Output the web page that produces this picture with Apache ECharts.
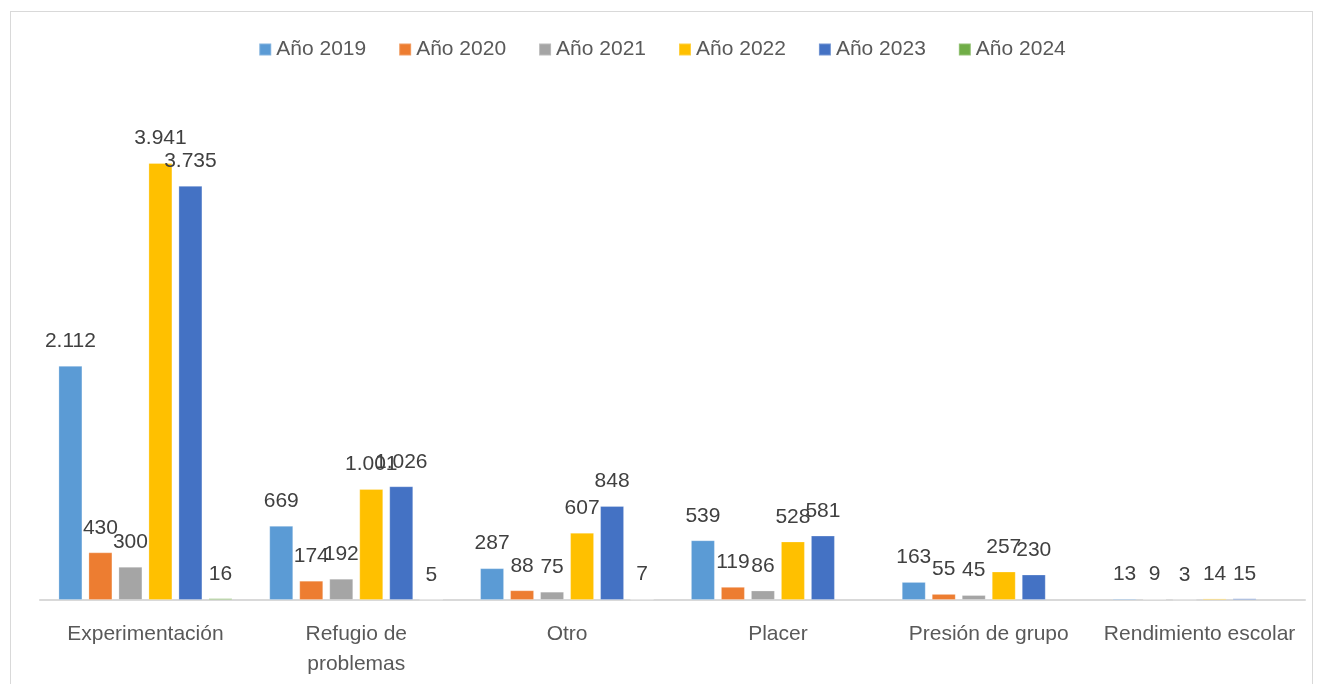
<!DOCTYPE html>
<html>
<head>
<meta charset="utf-8">
<script src="https://cdn.jsdelivr.net/npm/echarts@6/dist/echarts.min.js"></script>
<style>
    html, body { margin: 0; padding: 0; background: #fff; overflow: hidden; }
    #frame { position: absolute; left: 10px; top: 11px; width: 1303px; height: 700px; border: 1px solid #d9d9d9; box-sizing: border-box; }
    #chart { position: absolute; left: 0; top: 0; width: 1324px; height: 684px; }
</style>
</head>
<body>
<div id="frame"></div>
<div id="chart"></div>
<script>
    const categories = ['Experimentación', 'Refugio de\nproblemas', 'Otro', 'Placer', 'Presión de grupo', 'Rendimiento escolar'];
    const years = ['Año 2019', 'Año 2020', 'Año 2021', 'Año 2022', 'Año 2023', 'Año 2024'];
    const y2019 = [2112, 669, 287, 539, 163, 13];
    const y2020 = [430, 174, 88, 119, 55, 9];
    const y2021 = [300, 192, 75, 86, 45, 3];
    const y2022 = [3941, 1001, 607, 528, 257, 14];
    const y2023 = [3735, 1026, 848, 581, 230, 15];
    const y2024 = [16, 5, 7, '-', '-', '-'];
    const colors = ['#5b9bd5', '#ed7d31', '#a5a5a5', '#ffc000', '#4472c4', '#70ad47'];

    const allValues = [y2019, y2020, y2021, y2022, y2023, y2024];

    function fmt(v) {
        return String(v).replace(/\B(?=(\d{3})+(?!\d))/g, '.');
    }

    let myChart = echarts.init(document.getElementById('chart'));
    let option = {
        color: colors,
        textStyle: {fontFamily: 'Liberation Sans'},
        legend: {
            top: 34,
            left: 'center',
            itemWidth: 12,
            itemHeight: 12,
            itemGap: 32,
            icon: 'rect',
            textStyle: {fontSize: 21, color: '#595959', fontFamily: 'Liberation Sans'},
            data: years
        },
        grid: {left: 40, right: 19, top: 101, bottom: 84},
        xAxis: {
            type: 'category',
            data: categories,
            axisLine: {lineStyle: {color: '#d9d9d9', width: 2}},
            axisTick: {show: false},
            axisLabel: {fontSize: 21, color: '#595959', margin: 19, lineHeight: 30, interval: 0}
        },
        yAxis: {
            type: 'value',
            min: 0,
            max: 4500,
            show: false,
            splitLine: {show: false}
        },
        series: years.map((name, i) => ({
            name: name,
            type: 'bar',
            barWidth: 24,
            barGap: '25%',
            data: allValues[i],
            itemStyle: {color: colors[i], borderColor: 'rgba(255,255,255,0.25)', borderWidth: 1},
            label: {
                show: true,
                position: 'top',
                distance: 14,
                fontSize: 21,
                color: '#404040',
                formatter: p => fmt(p.value)
            }
        }))
    };
    myChart.setOption(option);
</script>
</body>
</html>
